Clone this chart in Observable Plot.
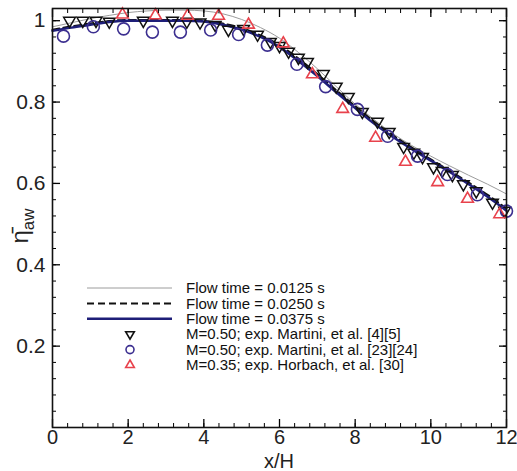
<!DOCTYPE html>
<html><head><meta charset="utf-8">
<script src="https://cdn.jsdelivr.net/npm/d3@7"></script>
<script src="https://cdn.jsdelivr.net/npm/@observablehq/plot@0.6"></script>
<style>body{margin:0;background:#fff} svg{display:block}</style>
</head><body><div id="chart"></div>
<script>
// ---- data ----
const curveX   = [0,0.5,1,1.5,2,2.5,3,3.5,4,4.5,5,5.5,6,6.5,7,7.5,8,8.5,9,9.5,10,10.5,11,11.5,12];
const flow0125 = [0.985,0.995,1.005,1.013,1.02,1.024,1.026,1.026,1.024,1.017,1.003,0.983,0.957,0.922,0.882,0.838,0.795,0.757,0.722,0.693,0.667,0.643,0.62,0.598,0.574];
const flow0250 = [0.978,0.986,0.993,0.999,1.002,1.002,1.002,1.002,1.0,0.993,0.982,0.964,0.94,0.907,0.869,0.829,0.79,0.752,0.718,0.688,0.659,0.631,0.602,0.572,0.538];
const flow0375 = [0.975,0.983,0.99,0.997,1.0,1.0,1.0,1.0,0.998,0.99,0.978,0.96,0.935,0.901,0.864,0.824,0.785,0.747,0.714,0.684,0.656,0.628,0.598,0.567,0.533];

const martini45X = [0.45,0.8,1.15,1.5,2.4,3.17,3.55,3.9,4.3,4.65,5.05,5.42,5.76,6.0,6.24,6.5,6.74,7.16,7.5,7.82,8.19,8.59,8.9,9.28,9.55,9.78,10.07,10.3,10.57,10.86,11.2,11.63,11.95];
const martini45Y = [1.0,1.0,1.0,0.998,1.0,1.0,0.998,0.996,0.99,0.978,0.98,0.966,0.948,0.938,0.924,0.909,0.899,0.869,0.838,0.813,0.776,0.752,0.727,0.69,0.676,0.665,0.64,0.631,0.621,0.598,0.581,0.553,0.533];

const martini2324X = [0.29,1.08,1.88,2.64,3.38,4.18,4.92,5.68,6.46,7.22,8.06,8.86,9.65,10.44,11.23,12.0];
const martini2324Y = [0.962,0.985,0.98,0.972,0.972,0.977,0.966,0.94,0.893,0.838,0.782,0.716,0.667,0.622,0.572,0.532];

const horbachX = [1.85,2.72,3.57,4.39,5.18,6.1,6.87,7.67,8.54,9.33,10.18,10.97,11.82];
const horbachY = [1.015,1.013,1.012,1.012,0.99,0.944,0.868,0.783,0.712,0.653,0.603,0.562,0.524];

const xTicks = [0,2,4,6,8,10,12];
const yTicks = [0.2,0.4,0.6,0.8,1];
const xMinor = d3.range(0,12.001,0.4).map(v=>+v.toFixed(2));
const yMinor = d3.range(0,1.0301,0.04).map(v=>+v.toFixed(2));

const legendLabels = ["Flow time = 0.0125 s","Flow time = 0.0250 s","Flow time = 0.0375 s",
  "M=0.50; exp. Martini, et al. [4][5]","M=0.50; exp. Martini, et al. [23][24]","M=0.35; exp. Horbach, et al. [30]"];

// ---- build ----
const curves = [flow0125, flow0250, flow0375].map(ys => curveX.map((x,i)=>({x, y:ys[i]})));
const pts = (xs,ys)=>xs.map((x,i)=>({x,y:ys[i]}));

const triDown = {draw(ctx,size){const r=Math.sqrt(size/Math.PI)*1.25;ctx.moveTo(-r*0.866,-r*0.5);ctx.lineTo(r*0.866,-r*0.5);ctx.lineTo(0,r);ctx.closePath();}};
const triUp = {draw(ctx,size){const r=Math.sqrt(size/Math.PI)*1.25;ctx.moveTo(0,-r);ctx.lineTo(r*0.866,r*0.5);ctx.lineTo(-r*0.866,r*0.5);ctx.closePath();}};

const navy = "#1e1e78", circ = "#3c2f90", red = "#e8424c", gray = "#9c9c9c";
const font = "Liberation Sans, Arial, sans-serif";

const plot = Plot.plot({
  width: 517, height: 471,
  marginLeft: 52, marginRight: 11, marginTop: 8, marginBottom: 44,
  style: {fontFamily: font, background: "#fff"},
  x: {domain:[0,12]},
  y: {domain:[0,1.03]},
  marks: [
    Plot.line(curves[0], {x:"x", y:"y", stroke: gray, strokeWidth: 1, curve:"monotone-x"}),
    Plot.line(curves[1], {x:"x", y:"y", stroke: "#111", strokeWidth: 2, strokeDasharray:"7,4", curve:"monotone-x"}),
    Plot.line(curves[2], {x:"x", y:"y", stroke: navy, strokeWidth: 2.5, curve:"monotone-x"}),
    Plot.dot(pts(martini45X, martini45Y), {x:"x", y:"y", symbol: triDown, r: 5.4, stroke:"#111", strokeWidth:1.5, fill:"none"}),
    Plot.dot(pts(martini2324X, martini2324Y), {x:"x", y:"y", r: 6, stroke: circ, strokeWidth:1.6, fill:"none"}),
    Plot.dot(pts(horbachX, horbachY), {x:"x", y:"y", symbol: triUp, r: 5.4, stroke: red, strokeWidth:1.6, fill:"none"}),
    // tick marks (inward) on all sides
    Plot.axisX(xTicks, {anchor:"bottom", tickSize:-8, tickFormat:()=>"", label:null, strokeWidth:1.3}),
    Plot.axisX(xMinor, {anchor:"bottom", tickSize:-4, tickFormat:()=>"", label:null}),
    Plot.axisX(xTicks, {anchor:"top", tickSize:-8, tickFormat:()=>"", label:null, strokeWidth:1.3}),
    Plot.axisX(xMinor, {anchor:"top", tickSize:-4, tickFormat:()=>"", label:null}),
    Plot.axisY(yTicks, {anchor:"left", tickSize:-8, tickFormat:()=>"", label:null, strokeWidth:1.3}),
    Plot.axisY(yMinor, {anchor:"left", tickSize:-4, tickFormat:()=>"", label:null}),
    Plot.axisY(yTicks, {anchor:"right", tickSize:-8, tickFormat:()=>"", label:null, strokeWidth:1.3}),
    Plot.axisY(yMinor, {anchor:"right", tickSize:-4, tickFormat:()=>"", label:null}),
    // labels
    Plot.axisX(xTicks, {anchor:"bottom", tickSize:0, tickPadding:2, fontSize:20, label:null, tickFormat:d=>String(d), color:"#222"}),
    Plot.axisY(yTicks, {anchor:"left", tickSize:0, tickPadding:7, fontSize:21, label:null, tickFormat:d=>String(d), color:"#222"}),
    Plot.frame({stroke:"#111", strokeWidth:1.6})
  ]
});
document.getElementById("chart").appendChild(plot);

const svg = d3.select(plot);
// axis titles
svg.append("text").attr("x", 279).attr("y", 468).attr("text-anchor","middle")
  .attr("font-family", font).attr("font-size", 20).attr("fill","#222").text("x/H");
const yl = svg.append("text").attr("transform","translate(28,226) rotate(-90)")
  .attr("text-anchor","middle").attr("font-family", font).attr("font-size", 24).attr("fill","#222");
yl.append("tspan").text("\u03B7\u0304");
yl.append("tspan").attr("font-size",17).attr("dy",6).text("aw");

// legend
const lg = svg.append("g").attr("font-family", font).attr("font-size", 15).attr("fill","#111").attr("text-anchor","start");
const rowY = i => 288 + i*15.4;
const lineStyles = [
  {stroke: gray, w:1, dash:null},
  {stroke: "#111", w:2, dash:"7,4"},
  {stroke: navy, w:2.5, dash:null}
];
lineStyles.forEach((s,i)=>{
  const l = lg.append("line").attr("x1",87).attr("x2",172).attr("y1",rowY(i)).attr("y2",rowY(i))
    .attr("stroke",s.stroke).attr("stroke-width",s.w);
  if (s.dash) l.attr("stroke-dasharray", s.dash);
});
const symPath = (type, size) => d3.symbol().type(type).size(size)();
const markers = [
  {type: triDown, stroke:"#111"},
  {type: d3.symbolCircle, stroke: circ},
  {type: triUp, stroke: red}
];
markers.forEach((m,j)=>{
  const i = j+3;
  lg.append("path").attr("d", symPath(m.type, Math.PI*16))
    .attr("transform",`translate(130,${rowY(i)})`).attr("fill","none").attr("stroke",m.stroke).attr("stroke-width",1.6);
});
legendLabels.forEach((t,i)=>{
  lg.append("text").attr("x",186).attr("y",rowY(i)).attr("dy","0.35em").attr("text-anchor","start").text(t);
});
</script>
</body></html>
